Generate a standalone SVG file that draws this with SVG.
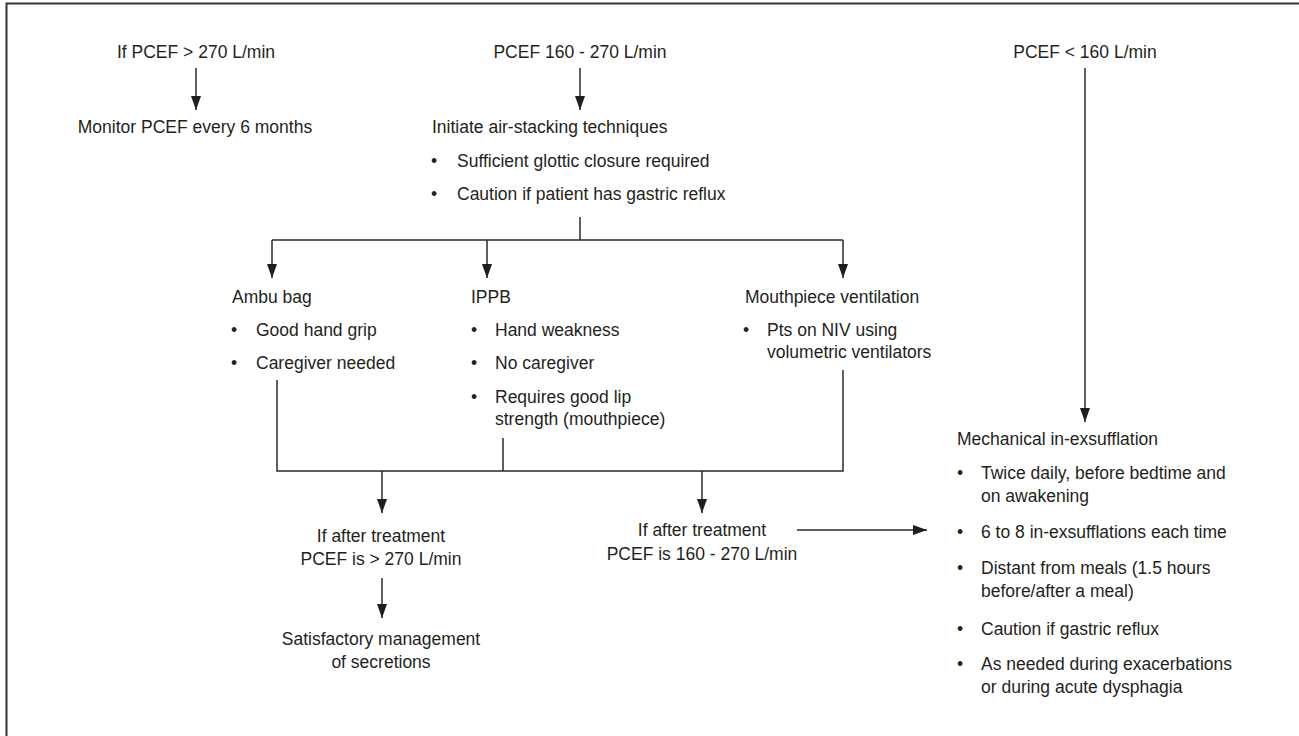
<svg xmlns="http://www.w3.org/2000/svg" width="1299" height="736" viewBox="0 0 1299 736">
<style>
text{font-family:"Liberation Sans",Arial,sans-serif;font-size:17.5px;fill:#231f20}
.m{text-anchor:middle}
.ln{stroke:#2b2b2b;stroke-width:1.5;fill:none}
.ar{stroke:#2b2b2b;stroke-width:1.5;fill:none;marker-end:url(#ah)}
</style>
<defs>
<marker id="ah" viewBox="0 0 14 10" markerWidth="14" markerHeight="10" refX="14" refY="5" orient="auto" markerUnits="userSpaceOnUse">
<path d="M0,0 L14,5 L0,10 z" fill="#1e1e1e"/>
</marker>
</defs>
<rect width="1299" height="736" fill="#fff"/>
<g id="frame">
<path d="M6.5,736 V3.5 H1299" stroke="#333" stroke-width="2" fill="none"/>
</g>
<g id="connectors">
<path class="ar" d="M196,68 V110"/>
<path class="ar" d="M580,68 V110"/>
<path class="ar" d="M1085,68 V422"/>
<path class="ln" d="M580,217 V240 M272,240 H843"/>
<path class="ar" d="M272,240 V278"/>
<path class="ar" d="M487,240 V278"/>
<path class="ar" d="M843,240 V278"/>
<path class="ln" d="M277,380 V471 H843 V370 M503,438 V471"/>
<path class="ar" d="M382,471 V513"/>
<path class="ar" d="M702,471 V513"/>
<path class="ar" d="M382,578 V618"/>
<path class="ar" d="M797,530 H927"/>
</g>
<g id="n-high"><text class="m" x="196" y="58">If PCEF &gt; 270 L/min</text></g>
<g id="n-monitor"><text class="m" x="195" y="133">Monitor PCEF every 6 months</text></g>
<g id="n-mid"><text class="m" x="580" y="58">PCEF 160 - 270 L/min</text></g>
<g id="n-airstack">
<text x="432" y="133">Initiate air-stacking techniques</text>
<text x="431" y="167">•<tspan x="457">Sufficient glottic closure required</tspan></text>
<text x="431" y="200">•<tspan x="457">Caution if patient has gastric reflux</tspan></text>
</g>
<g id="n-low"><text class="m" x="1085" y="58">PCEF &lt; 160 L/min</text></g>
<g id="n-ambu">
<text x="232" y="303">Ambu bag</text>
<text x="231" y="336">•<tspan x="256">Good hand grip</tspan></text>
<text x="231" y="369">•<tspan x="256">Caregiver needed</tspan></text>
</g>
<g id="n-ippb">
<text x="471" y="303">IPPB</text>
<text x="471" y="336">•<tspan x="495">Hand weakness</tspan></text>
<text x="471" y="369">•<tspan x="495">No caregiver</tspan></text>
<text x="471" y="403">•<tspan x="495">Requires good lip</tspan></text>
<text x="495" y="425">strength (mouthpiece)</text>
</g>
<g id="n-mouthpiece">
<text x="745" y="303">Mouthpiece ventilation</text>
<text x="743" y="336">•<tspan x="767">Pts on NIV using</tspan></text>
<text x="767" y="358">volumetric ventilators</text>
</g>
<g id="n-after-high">
<text class="m" x="381" y="542">If after treatment</text>
<text class="m" x="381" y="565">PCEF is &gt; 270 L/min</text>
</g>
<g id="n-satisfactory">
<text class="m" x="381" y="645">Satisfactory management</text>
<text class="m" x="381" y="668">of secretions</text>
</g>
<g id="n-after-mid">
<text class="m" x="702" y="536">If after treatment</text>
<text class="m" x="702" y="560">PCEF is 160 - 270 L/min</text>
</g>
<g id="n-mie">
<text x="957" y="445">Mechanical in-exsufflation</text>
<text x="957" y="479">•<tspan x="981">Twice daily, before bedtime and</tspan></text>
<text x="981" y="502">on awakening</text>
<text x="957" y="538">•<tspan x="981">6 to 8 in-exsufflations each time</tspan></text>
<text x="957" y="574">•<tspan x="981">Distant from meals (1.5 hours</tspan></text>
<text x="981" y="597">before/after a meal)</text>
<text x="957" y="635">•<tspan x="981">Caution if gastric reflux</tspan></text>
<text x="957" y="670">•<tspan x="981">As needed during exacerbations</tspan></text>
<text x="981" y="693">or during acute dysphagia</text>
</g>
</svg>
